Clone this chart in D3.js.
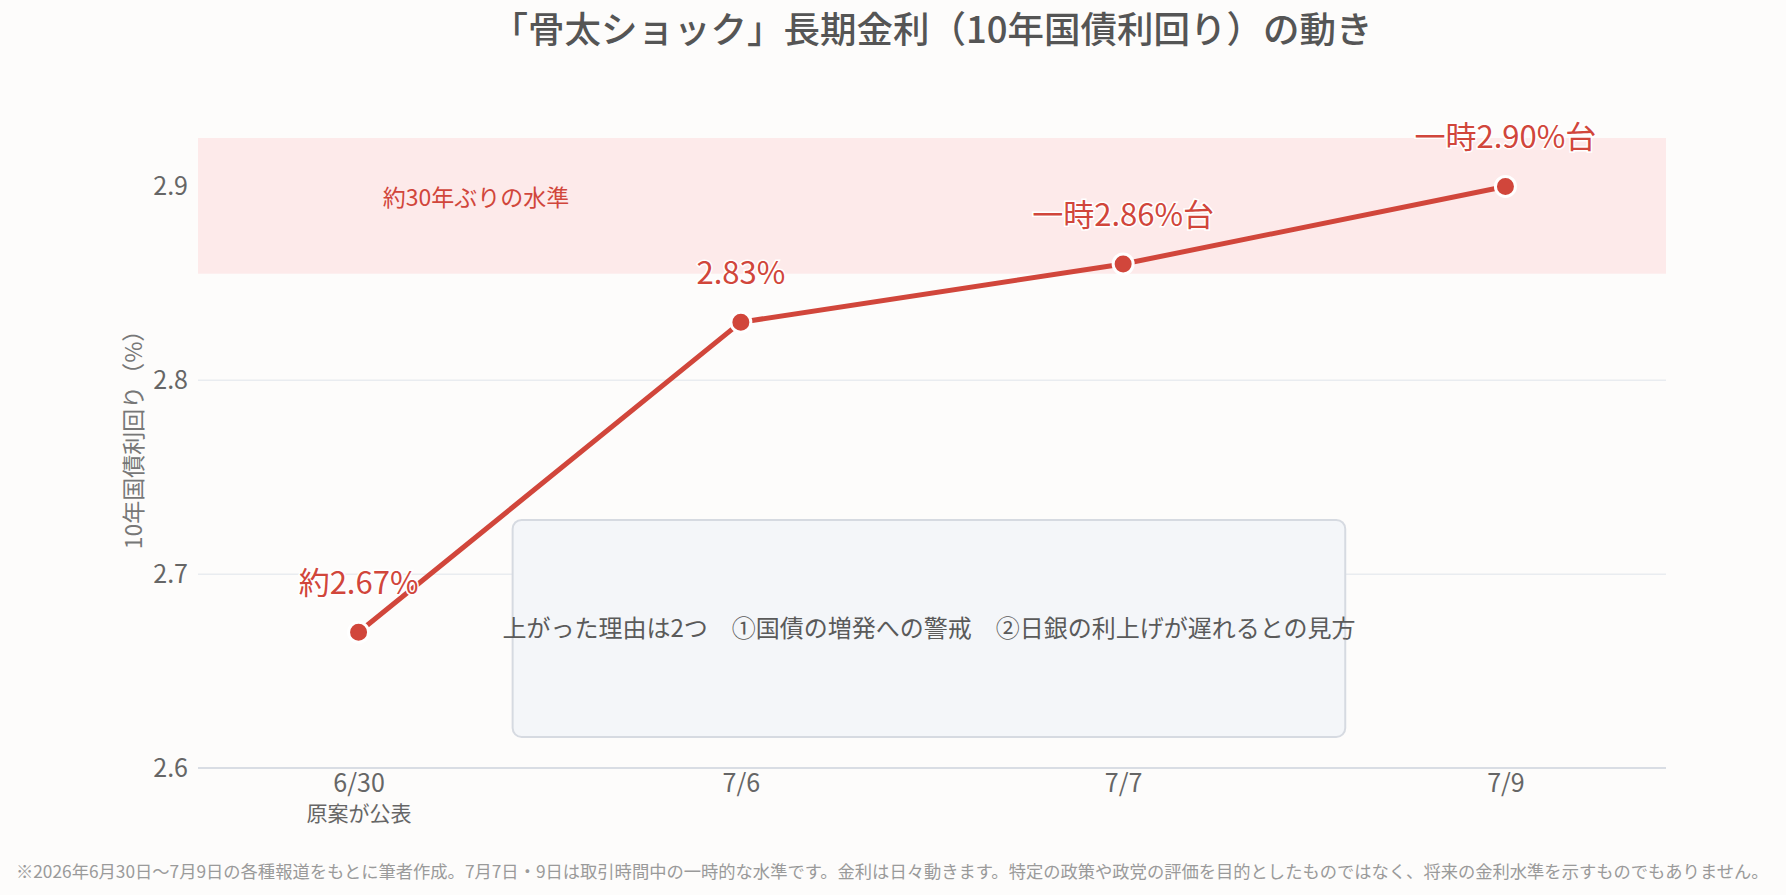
<!DOCTYPE html>
<html lang="ja">
<head>
<meta charset="utf-8">
<script src="https://cdn.jsdelivr.net/npm/d3@7"></script>
<style>
  html, body { margin: 0; padding: 0; background: #fdfcfb; }
  svg { display: block; font-family: "Noto Sans CJK JP", "Noto Sans", sans-serif; }
</style>
</head>
<body>
<div id="chart"></div>
<script>
// data
const dates = ['6/30', '7/6', '7/7', '7/9'];
const dateNotes = ['原案が公表', '', '', ''];
const yields = [2.67, 2.83, 2.86, 2.90];
const pointLabels = ['約2.67%', '2.83%', '一時2.86%台', '一時2.90%台'];
const yTicks = [2.6, 2.7, 2.8, 2.9];
const bandRange = [2.855, 2.925];
const bandLabel = '約30年ぶりの水準';
const noteText = '上がった理由は2つ　①国債の増発への警戒　②日銀の利上げが遅れるとの見方';
const noteX = [0.403, 2.581];   // in point-index units
const noteY = [2.616, 2.728];
const title = '「骨太ショック」長期金利（10年国債利回り）の動き';
const yLabel = '10年国債利回り（%）';
const footnote = '※2026年6月30日～7月9日の各種報道をもとに筆者作成。7月7日・9日は取引時間中の一時的な水準です。金利は日々動きます。特定の政策や政党の評価を目的としたものではなく、将来の金利水準を示すものでもありません。';

const W = 1786, H = 895;
const margin = { top: 138, right: 120, bottom: 127, left: 198 };
const width = W - margin.left - margin.right;
const height = H - margin.top - margin.bottom;
const red = '#d1463b';

const svg = d3.select('#chart').append('svg')
    .attr('width', W)
    .attr('height', H);

svg.append('rect').attr('width', W).attr('height', H).attr('fill', '#fdfcfb');

const x = d3.scalePoint().domain(dates).range([0, width]).padding(0.42);
const xi = d3.scaleLinear().domain([0, dates.length - 1]).range([x(dates[0]), x(dates[dates.length - 1])]);
const y = d3.scaleLinear().domain([2.6, 2.925]).range([height, 0]);

const g = svg.append('g').attr('transform', 'translate(' + margin.left + ',' + margin.top + ')');

// grid
g.append('g')
    .selectAll('line')
    .data(yTicks.slice(1))
    .join('line')
    .attr('x1', 0).attr('x2', width)
    .attr('y1', d => y(d)).attr('y2', d => y(d))
    .attr('stroke', '#e9ecf0')
    .attr('stroke-width', 1.5);

// highlight band
g.append('rect')
    .attr('x', 0)
    .attr('y', y(bandRange[1]))
    .attr('width', width)
    .attr('height', y(bandRange[0]) - y(bandRange[1]))
    .attr('fill', '#fdeaea');

g.append('text')
    .text(bandLabel)
    .attr('x', 278)
    .attr('y', y(2.9) + 20)
    .attr('text-anchor', 'middle')
    .attr('fill', red)
    .attr('font-size', 23);

// note box
g.append('rect')
    .attr('x', xi(noteX[0]))
    .attr('y', y(noteY[1]))
    .attr('width', xi(noteX[1]) - xi(noteX[0]))
    .attr('height', y(noteY[0]) - y(noteY[1]))
    .attr('rx', 9)
    .attr('fill', '#f4f6f9')
    .attr('stroke', '#d6dae1')
    .attr('stroke-width', 2);

g.append('text')
    .text(noteText)
    .attr('x', xi((noteX[0] + noteX[1]) / 2))
    .attr('y', y((noteY[0] + noteY[1]) / 2))
    .attr('dy', '0.35em')
    .attr('text-anchor', 'middle')
    .attr('fill', '#5a5a5a')
    .attr('font-size', 24);

// y axis
const yAxis = g.append('g')
    .call(d3.axisLeft(y).tickValues(yTicks).tickFormat(d3.format('.1f')).tickSize(0).tickPadding(10));
yAxis.select('.domain').remove();
yAxis.selectAll('text')
    .attr('fill', '#666')
    .attr('font-size', 25)
    .attr('font-family', '"Noto Sans CJK JP", sans-serif');

// x axis
const xAxis = g.append('g')
    .attr('transform', 'translate(0,' + height + ')')
    .call(d3.axisBottom(x).tickSize(0));
xAxis.select('.domain').attr('stroke', '#d9dde4').attr('stroke-width', 2)
    .attr('d', 'M0,0H' + width);
xAxis.selectAll('.tick text')
    .attr('y', 24)
    .attr('dy', 0)
    .attr('fill', '#666')
    .attr('font-size', 25)
    .attr('font-family', '"Noto Sans CJK JP", sans-serif');
xAxis.selectAll('.tick')
    .append('text')
    .text((d, i) => dateNotes[i])
    .attr('y', 53)
    .attr('text-anchor', 'middle')
    .attr('fill', '#666')
    .attr('font-size', 21)
    .attr('font-family', '"Noto Sans CJK JP", sans-serif');

// y label
svg.append('text')
    .text(yLabel)
    .attr('transform', 'translate(' + 142 + ',' + 434 + ') rotate(-90)')
    .attr('text-anchor', 'middle')
    .attr('fill', '#777')
    .attr('font-size', 23);

// line
const line = d3.line()
    .x((d, i) => x(dates[i]))
    .y(d => y(d));

g.append('path')
    .datum(yields)
    .attr('d', line)
    .attr('fill', 'none')
    .attr('stroke', red)
    .attr('stroke-width', 5)
    .attr('stroke-linejoin', 'round');

g.selectAll('.pt')
    .data(yields)
    .join('circle')
    .attr('class', 'pt')
    .attr('cx', (d, i) => x(dates[i]))
    .attr('cy', d => y(d))
    .attr('r', 10)
    .attr('fill', red)
    .attr('stroke', '#fff')
    .attr('stroke-width', 3);

g.selectAll('.pt-label')
    .data(yields)
    .join('text')
    .attr('class', 'pt-label')
    .text((d, i) => pointLabels[i])
    .attr('x', (d, i) => x(dates[i]))
    .attr('y', d => y(d) - 38)
    .attr('text-anchor', 'middle')
    .attr('fill', red)
    .attr('font-size', 31)
    .attr('stroke', '#fff')
    .attr('stroke-width', 3)
    .attr('paint-order', 'stroke');

// title
svg.append('text')
    .text(title)
    .attr('x', margin.left + width / 2)
    .attr('y', 43)
    .attr('text-anchor', 'middle')
    .attr('fill', '#555')
    .attr('font-size', 36.5)
    .attr('font-weight', 500);

// footnote
svg.append('text')
    .text(footnote)
    .attr('x', 16)
    .attr('y', 878)
    .attr('fill', '#9a9a9a')
    .attr('font-size', 17.3);
</script>
</body>
</html>
